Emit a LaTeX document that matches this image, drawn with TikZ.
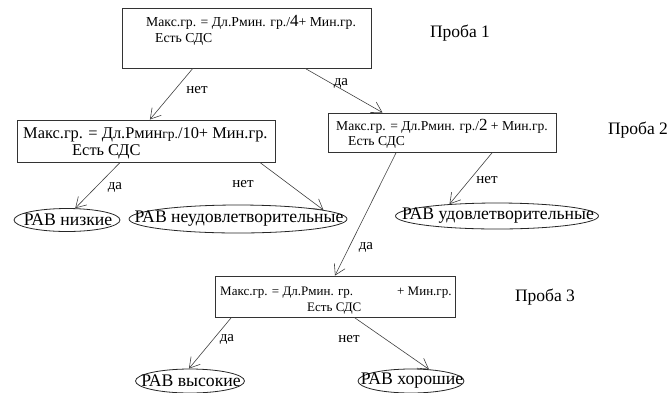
\documentclass[tikz,border=0pt]{standalone}
\usepackage{fontspec}
\setmainfont{Liberation Serif}
\usetikzlibrary{shapes.geometric,arrows.meta,calc}
\tikzset{
  box/.style={draw=black!80,line width=0.9pt,inner sep=0pt},
  oval/.style={ellipse,draw=black!85,line width=0.8pt,inner sep=0pt},
  conn/.style={draw=black!75,line width=0.6pt,-{Straight Barb[length=10pt,width=12pt,line width=0.6pt]}},
  txt/.style={inner sep=0pt,anchor=base west},
  lbl/.style={inner sep=0pt,font=\fontsize{15}{17}\selectfont},
  probe/.style={inner sep=0pt,font=\fontsize{17.5}{19}\selectfont},
  rav/.style={inner sep=0pt,font=\fontsize{17.7}{19}\selectfont}
}
\begin{document}
\begin{tikzpicture}[x=1pt,y=-1pt]
\useasboundingbox (0,0) rectangle (667,392);
% boxes
\node[box,minimum width=249pt,minimum height=60pt] (b1) at (246.5,38) {};
\node[box,minimum width=258pt,minimum height=42pt] (b2) at (146,141) {};
\node[box,minimum width=228pt,minimum height=39pt] (b3) at (442,132.5) {};
\node[box,minimum width=240pt,minimum height=41pt] (b4) at (335,296.5) {};
% box texts
\node[txt,font=\fontsize{13.7}{15}\selectfont] (b1a) at (146,26) {Макс.гр. = Дл.Рмин. гр./{\fontsize{17}{17}\selectfont 4}+ Мин.гр.};
\node[txt,font=\fontsize{13.7}{15}\selectfont] (b1b) at (155,42) {Есть СДС};
\node[txt,font=\fontsize{16.4}{18}\selectfont] (b2a) at (23,138) {Макс.гр. = Дл.Рмин{\fontsize{13.5}{13}\selectfont гр.}/10+ Мин.гр.};
\node[txt,font=\fontsize{16.4}{18}\selectfont] (b2b) at (72,155) {Есть СДС};
\node[txt,font=\fontsize{13.6}{15}\selectfont] (b3a) at (336,130) {Макс.гр. = Дл.Рмин. гр./{\fontsize{17}{17}\selectfont 2} + Мин.гр.};
\node[txt,font=\fontsize{13.6}{15}\selectfont] (b3b) at (348,145) {Есть СДС};
\node[txt,font=\fontsize{13}{14}\selectfont] (b4a) at (220,295) {Макс.гр. = Дл.Рмин. гр.\hspace{44pt}+ Мин.гр.};
\node[txt,font=\fontsize{13}{14}\selectfont] (b4b) at (307,311) {Есть СДС};
% probe labels
\node[probe] (p1) at (460,33) {Проба 1};
\node[probe] (p2) at (638,130) {Проба 2};
\node[probe] (p3) at (545,297) {Проба 3};
% ellipses
\node[oval,minimum width=106pt,minimum height=23pt] (e1) at (67,220) {};
\node[oval,minimum width=218pt,minimum height=28pt] (e2) at (238,219) {};
\node[oval,minimum width=203pt,minimum height=26pt] (e3) at (497,216) {};
\node[oval,minimum width=109pt,minimum height=24pt] (e4) at (190,381) {};
\node[oval,minimum width=106pt,minimum height=24pt] (e5) at (411,381) {};
\node[rav] (e1t) at (68,220) {РАВ низкие};
\node[rav] (e2t) at (239,218.5) {РАВ неудовлетворительные};
\node[rav] (e3t) at (498,215.5) {РАВ удовлетворительные};
\node[rav] (e4t) at (191,381) {РАВ высокие};
\node[rav] (e5t) at (412,381) {РАВ хорошие};
% connectors
\draw[conn] ($(b1.south west)!0.285!(b1.south east)$) -- ($(b2.north west)!0.515!(b2.north east)$);
\draw[conn] ($(b1.south west)!0.735!(b1.south east)$) -- ($(b3.north west)!0.24!(b3.north east)$);
\draw[conn] ($(b2.south west)!0.40!(b2.south east)$) -- (e1.55);
\draw[conn] ($(b2.south west)!0.94!(b2.south east)$) -- (e2.6);
\draw[conn] ($(b3.south west)!0.30!(b3.south east)$) -- ($(b4.north west)!0.50!(b4.north east)$);
\draw[conn] ($(b3.south west)!0.72!(b3.south east)$) -- (e3.166);
\draw[conn] ($(b4.south west)!0.07!(b4.south east)$) -- (e4.95);
\draw[conn] ($(b4.south west)!0.58!(b4.south east)$) -- (e5.33);
% connector labels
\node[lbl] (l1) at (197,90) {нет};
\node[lbl] (l2) at (341,83) {да};
\node[lbl] (l3) at (115,187) {да};
\node[lbl] (l4) at (243,184) {нет};
\node[lbl] (l5) at (366,247) {да};
\node[lbl] (l6) at (487,180) {нет};
\node[lbl] (l7) at (227,339) {да};
\node[lbl] (l8) at (349,339) {нет};
\end{tikzpicture}
\end{document}
